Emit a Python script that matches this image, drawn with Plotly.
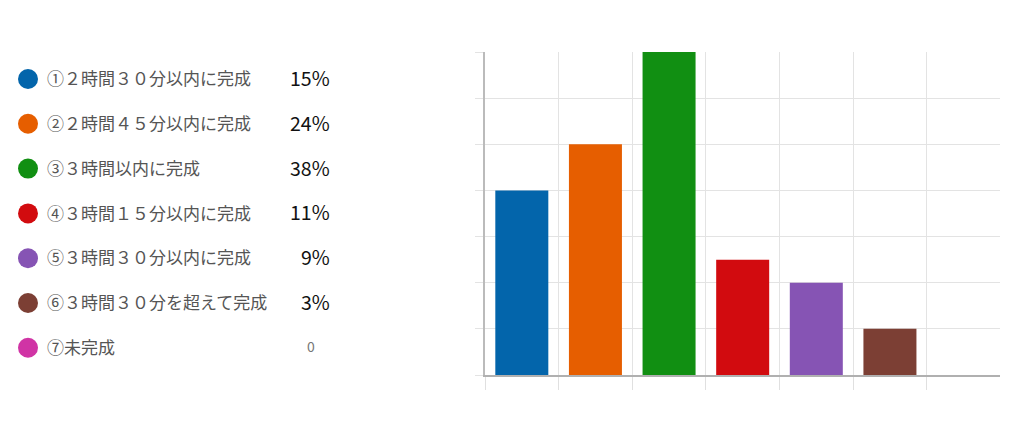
import plotly.graph_objects as go

categories = ["①２時間３０分以内に完成", "②２時間４５分以内に完成", "③３時間以内に完成",
              "④３時間１５分以内に完成", "⑤３時間３０分以内に完成", "⑥３時間３０分を超えて完成", "⑦未完成"]
bar_values = [4, 5, 7, 2.5, 2, 1, 0]
percent_labels = ["15%", "24%", "38%", "11%", "9%", "3%", "0"]
colors = ["#0365AB", "#E65E00", "#118F12", "#D20B0F", "#8654B4", "#7C3F34", "#D034A5"]

W, H = 1020, 426
OFF = 8  # default page body margin
FONT = "Noto Sans CJK JP"

fig = go.Figure()

fig.add_trace(go.Bar(
    x=categories, y=bar_values, marker=dict(color=colors, line=dict(width=0)),
    width=0.72, xaxis="x", yaxis="y", showlegend=False, hoverinfo="skip"))

leg_y = [79 + i * 44.8 for i in range(len(categories))]
fig.add_trace(go.Scatter(
    x=[28] * len(categories), y=leg_y, mode="markers",
    marker=dict(size=20, color=colors, line=dict(width=0)),
    xaxis="x2", yaxis="y2", showlegend=False, hoverinfo="skip"))
fig.add_trace(go.Scatter(
    x=[47] * len(categories), y=[v + 2 for v in leg_y], mode="text", text=categories,
    textposition="middle right", textfont=dict(family=FONT, size=17, color="#555555"),
    xaxis="x2", yaxis="y2", showlegend=False, hoverinfo="skip"))

annotations = []
for i, p in enumerate(percent_labels):
    is_zero = p == "0"
    annotations.append(dict(
        x=311 if is_zero else 332, y=leg_y[i] - 1.5, xref="x2", yref="y2",
        text=p, showarrow=False, xanchor="center" if is_zero else "right", yanchor="middle",
        font=dict(family=FONT, size=14 if is_zero else 19.5, color="#777777" if is_zero else "#111111")))

fig.update_layout(
    width=W, height=H, margin=dict(l=0, r=0, t=0, b=0),
    paper_bgcolor="white", plot_bgcolor="white",
    annotations=annotations,
    xaxis=dict(domain=[(485 - OFF) / W, (1000 - OFF) / W], type="category", tickson="boundaries",
               showticklabels=False, showgrid=True, gridcolor="#E3E3E3", gridwidth=1,
               ticks="outside", ticklen=13, tickcolor="#E0E0E0", tickwidth=1,
               range=[-0.5, 6.495], fixedrange=True, zeroline=False,
               showline=True, linecolor="#B0B0B0", linewidth=2),
    yaxis=dict(domain=[(H - 375 + OFF) / H, (H - 52 + OFF) / H], range=[0, 7], dtick=1,
               showticklabels=False, showgrid=True, gridcolor="#E3E3E3", gridwidth=1,
               ticks="outside", ticklen=8, tickcolor="#E3E3E3",
               zeroline=False, showline=True, linecolor="#BBBBBB", linewidth=1.5),
    xaxis2=dict(domain=[0, 459 / W], range=[OFF, 459 + OFF], visible=False, anchor="y2"),
    yaxis2=dict(domain=[0, 1], range=[H + OFF, OFF], visible=False, anchor="x2"),
)

fig.write_html("out.html")
